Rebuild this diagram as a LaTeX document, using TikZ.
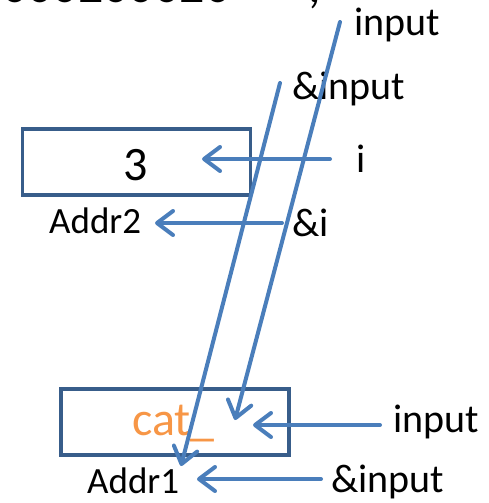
\documentclass[tikz,border=0pt]{standalone}
\usepackage{fontspec}
\setmainfont{Carlito}
\usetikzlibrary{arrows.meta}
\definecolor{lineblue}{HTML}{4A7EBB}
\definecolor{boxblue}{HTML}{385D8A}
\definecolor{catorange}{HTML}{F79646}
\begin{document}
\begin{tikzpicture}[x=1pt,y=-1pt,
  mem/.style={draw=boxblue, line width=3.8pt, inner sep=0pt},
  lbl/.style={anchor=base west, inner sep=0pt, font=\fontsize{40}{48}\selectfont},
  addr/.style={anchor=base west, inner sep=0pt, font=\fontsize{37}{44}\selectfont},
  big/.style={anchor=base west, inner sep=0pt, font=\fontsize{48}{56}\selectfont},
  ptr/.style={draw=lineblue, line width=4pt, line cap=round, -{Straight Barb[round,length=16pt,width=24pt]}},
]
\useasboundingbox (0,0) rectangle (489,503);
% cut-off text line at the top edge
\begin{scope}
\clip (0,0) rectangle (489,503);
\node[anchor=base west, inner sep=0pt, font=\fontsize{50}{60}\selectfont] (topline) at (2,2.5) {000200020\hspace{78pt},};
\end{scope}
% memory boxes
\node[mem, minimum width=228pt, minimum height=66pt] (box1) at (136.5,162) {};
\node[mem, minimum width=228pt, minimum height=66pt] (box2) at (175,422) {};
% contents
\node[big] (three) at (123,180) {3};
\node[big, text=catorange] (cat) at (132,435) {cat\_};
\node[addr] (addr2) at (49,233) {Addr2};
\node[addr] (addr1) at (87,493) {Addr1};
% labels
\node[lbl] (lInputTop) at (354,36) {input};
\node[lbl] (lAmpInputTop) at (292,99) {\&input};
\node[lbl] (lI) at (356,172) {i};
\node[lbl] (lAmpI) at (292,236) {\&i};
\node[lbl] (lInput) at (393,432) {input};
\node[lbl] (lAmpInput) at (331,492) {\&input};
% arrow end points
\coordinate (aS) at (340,22);  \coordinate (aT) at (235,420);
\coordinate (bS) at (280,83);  \coordinate (bT) at (181,466);
\coordinate (iS) at (330,159); \coordinate (iT) at (202,159);
\coordinate (jS) at (282,223); \coordinate (jT) at (155,223);
\coordinate (kS) at (380,425); \coordinate (kT) at (253,425);
\coordinate (mS) at (321,479); \coordinate (mT) at (197,479);
\draw[ptr] (aS) -- (aT);
\draw[ptr] (bS) -- (bT);
\draw[ptr] (iS) -- (iT);
\draw[ptr] (jS) -- (jT);
\draw[ptr] (kS) -- (kT);
\draw[ptr] (mS) -- (mT);
\end{tikzpicture}
\end{document}
